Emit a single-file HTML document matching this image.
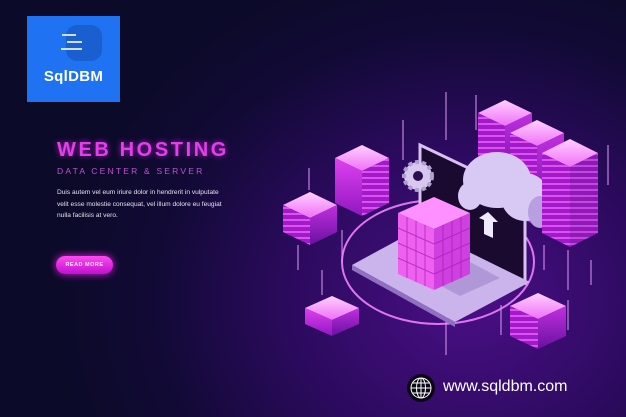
<!DOCTYPE html>
<html><head><style>
html,body{margin:0;padding:0;}
body{width:626px;height:417px;overflow:hidden;position:relative;font-family:"Liberation Sans",sans-serif;
background:radial-gradient(ellipse 420px 360px at 470px 300px,#4a0f86 0%,#2a0a5c 45%,#120a36 75%,#0b0a28 100%);}
.logo{position:absolute;left:27px;top:16px;width:93px;height:86px;background:#1f73f2;}
.logo .t{position:absolute;left:0;width:93px;top:52px;text-align:center;color:#fff;font-size:15px;font-weight:bold;letter-spacing:0.3px;}
h1{position:absolute;left:57px;top:139px;margin:0;font-size:20px;letter-spacing:2.6px;font-weight:bold;color:#e040e8;text-shadow:0 0 6px #b020c0;}
.sub{position:absolute;left:57px;top:166px;font-size:8.5px;letter-spacing:2.2px;color:#c050d0;}
.p{position:absolute;left:57px;top:187px;font-size:6.6px;line-height:11.5px;color:#e8e0f0;width:220px;}
.btn{position:absolute;left:56px;top:256px;width:57px;height:18px;border-radius:9px;background:linear-gradient(#ff4af0,#c010d0);box-shadow:0 0 8px #e020e0;color:#fbe0ff;font-size:5.5px;font-weight:bold;text-align:center;line-height:18px;letter-spacing:0.5px;}
.url{position:absolute;left:443px;top:378px;font-size:16px;color:#fff;}
</style></head><body>
<div class="logo">
<svg width="93" height="50" style="position:absolute;left:0;top:0">
<rect x="39" y="9" width="36" height="36" rx="11" fill="#1a5fd0"/>
<rect x="35" y="18" width="14" height="2" fill="#cfe0ff"/>
<rect x="40" y="25" width="15" height="2" fill="#cfe0ff"/>
<rect x="34" y="32" width="21" height="2" fill="#cfe0ff"/>
</svg>
<div class="t">SqlDBM</div>
</div>
<h1>WEB HOSTING</h1>
<div class="sub">DATA CENTER &amp; SERVER</div>
<div class="p">Duis autem vel eum iriure dolor in hendrerit in vulputate<br>velit esse molestie consequat, vel illum dolore eu feugiat<br>nulla facilisis at vero.</div>
<div class="btn">READ MORE</div>

<svg width="626" height="417" style="position:absolute;left:0;top:0">
<defs>
<pattern id="st" width="6" height="6" patternUnits="userSpaceOnUse"><rect width="6" height="6" fill="#a01cc8"/><rect y="3" width="6" height="2" fill="#e050f0"/></pattern>
<linearGradient id="tp" x1="0" y1="0" x2="0" y2="1"><stop offset="0" stop-color="#ffd0ff"/><stop offset="1" stop-color="#f070f8"/></linearGradient>
<linearGradient id="lf" x1="0" y1="0" x2="0" y2="1"><stop offset="0" stop-color="#e040f0"/><stop offset="1" stop-color="#9018c0"/></linearGradient>
<linearGradient id="rf" x1="0" y1="0" x2="0" y2="1"><stop offset="0" stop-color="#c030e0"/><stop offset="1" stop-color="#6a10a0"/></linearGradient>
</defs>
<g stroke="#e8a0ff" stroke-width="1.2" opacity="0.8">
<line x1="446" y1="92" x2="446" y2="140"/><line x1="476" y1="95" x2="476" y2="130"/><line x1="403" y1="120" x2="403" y2="160"/>
<line x1="309" y1="168" x2="309" y2="190"/><line x1="342" y1="230" x2="342" y2="262"/><line x1="298" y1="245" x2="298" y2="270"/>
<line x1="322" y1="270" x2="322" y2="295"/><line x1="446" y1="310" x2="446" y2="355"/><line x1="501" y1="305" x2="501" y2="335"/>
<line x1="568" y1="300" x2="568" y2="330"/><line x1="591" y1="260" x2="591" y2="285"/><line x1="608" y1="145" x2="608" y2="185"/>
<line x1="544" y1="245" x2="544" y2="270"/><line x1="568" y1="250" x2="568" y2="290"/>
</g>
<ellipse cx="438" cy="262" rx="96" ry="62" fill="none" stroke="#f080ff" stroke-width="2" opacity="0.9"/>
<!-- laptop -->
<polygon points="420,145 525,195 525,283 420,230" fill="#1a0a30" stroke="#d8c0f0" stroke-width="3"/>
<polygon points="352,265 420,228 530,282 455,322" fill="#cbb4ec"/>
<polygon points="352,265 455,322 455,327 352,270" fill="#9070c0"/>
<polygon points="430,280 470,262 500,278 460,296" fill="#b098d8"/>
<!-- gear -->
<circle cx="418" cy="176" r="14" fill="#d8c8f0" stroke="#b0a0d0" stroke-width="4" stroke-dasharray="4 3"/>
<circle cx="418" cy="176" r="5" fill="#2a1050"/>
<g>
<polygon points="505,100 532,113 505,126 478,113" fill="url(#tp)"/><polygon points="478,113 505,126 505,186 478,173" fill="url(#st)"/><polygon points="505,126 532,113 532,173 505,186" fill="url(#rf)"/>
<polygon points="537,120 564,133 537,146 510,133" fill="url(#tp)"/><polygon points="510,133 537,146 537,226 510,213" fill="url(#st)"/><polygon points="537,146 564,133 564,213 537,226" fill="url(#rf)"/>
</g>
<!-- cloud -->
<g fill="#d8c8f4">
<ellipse cx="497" cy="180" rx="34" ry="28"/><ellipse cx="525" cy="197" rx="24" ry="24"/><ellipse cx="470" cy="196" rx="12" ry="14"/><ellipse cx="540" cy="212" rx="12" ry="16" fill="#b8a0e0"/>
</g>
<polygon points="488,212 498,222 493,222 493,238 484,234 484,220 479,218" fill="#f0e8ff"/>
<g>
<polygon points="570,139 598,153 570,167 542,153" fill="url(#tp)"/><polygon points="542,153 570,167 570,247 542,233" fill="url(#st)"/><polygon points="570,167 598,153 598,233 570,247" fill="url(#st)" opacity="0.85"/>
<polygon points="362,145 389,158 362,171 335,158" fill="url(#tp)"/><polygon points="335,158 362,171 362,216 335,203" fill="url(#lf)"/><polygon points="362,171 389,158 389,203 362,216" fill="url(#st)"/>
<polygon points="310,192 337,205 310,218 283,205" fill="url(#tp)"/><polygon points="283,205 310,218 310,245 283,232" fill="url(#st)"/><polygon points="310,218 337,205 337,232 310,245" fill="url(#rf)"/>
<polygon points="332,296 359,308 332,320 305,308" fill="url(#tp)"/><polygon points="305,308 332,320 332,336 305,324" fill="url(#lf)"/><polygon points="332,320 359,308 359,324 332,336" fill="url(#rf)"/>
<polygon points="538,293 566,306 538,319 510,306" fill="url(#tp)"/><polygon points="510,306 538,319 538,349 510,336" fill="url(#st)"/><polygon points="538,319 566,306 566,336 538,349" fill="url(#rf)"/>
<!-- cube -->
<polygon points="434,197 470,213 434,229 398,213" fill="#ff90ff"/>
<polygon points="398,213 434,229 434,290 398,274" fill="#f060f0"/>
<polygon points="434,229 470,213 470,274 434,290" fill="#d040e0"/>
<g stroke="#a020b0" stroke-width="1" opacity="0.7">
<line x1="407" y1="217" x2="407" y2="278"/><line x1="416" y1="221" x2="416" y2="282"/><line x1="425" y1="225" x2="425" y2="286"/>
<line x1="443" y1="225" x2="443" y2="286"/><line x1="452" y1="221" x2="452" y2="282"/><line x1="461" y1="217" x2="461" y2="278"/>
<line x1="398" y1="228" x2="434" y2="244"/><line x1="398" y1="243" x2="434" y2="259"/><line x1="398" y1="258" x2="434" y2="274"/>
<line x1="434" y1="244" x2="470" y2="228"/><line x1="434" y1="259" x2="470" y2="243"/><line x1="434" y1="274" x2="470" y2="258"/>
</g>
</g>
<!-- globe -->
<circle cx="421" cy="388" r="14" fill="#0a0614"/>
<g fill="none" stroke="#fff" stroke-width="1"><circle cx="421" cy="388" r="10"/><ellipse cx="421" cy="388" rx="4.5" ry="10"/><line x1="411" y1="388" x2="431" y2="388"/><line x1="413" y1="383" x2="429" y2="383"/><line x1="413" y1="393" x2="429" y2="393"/><line x1="421" y1="378" x2="421" y2="398"/></g>
</svg>
<div class="url">www.sqldbm.com</div>
</body></html>
